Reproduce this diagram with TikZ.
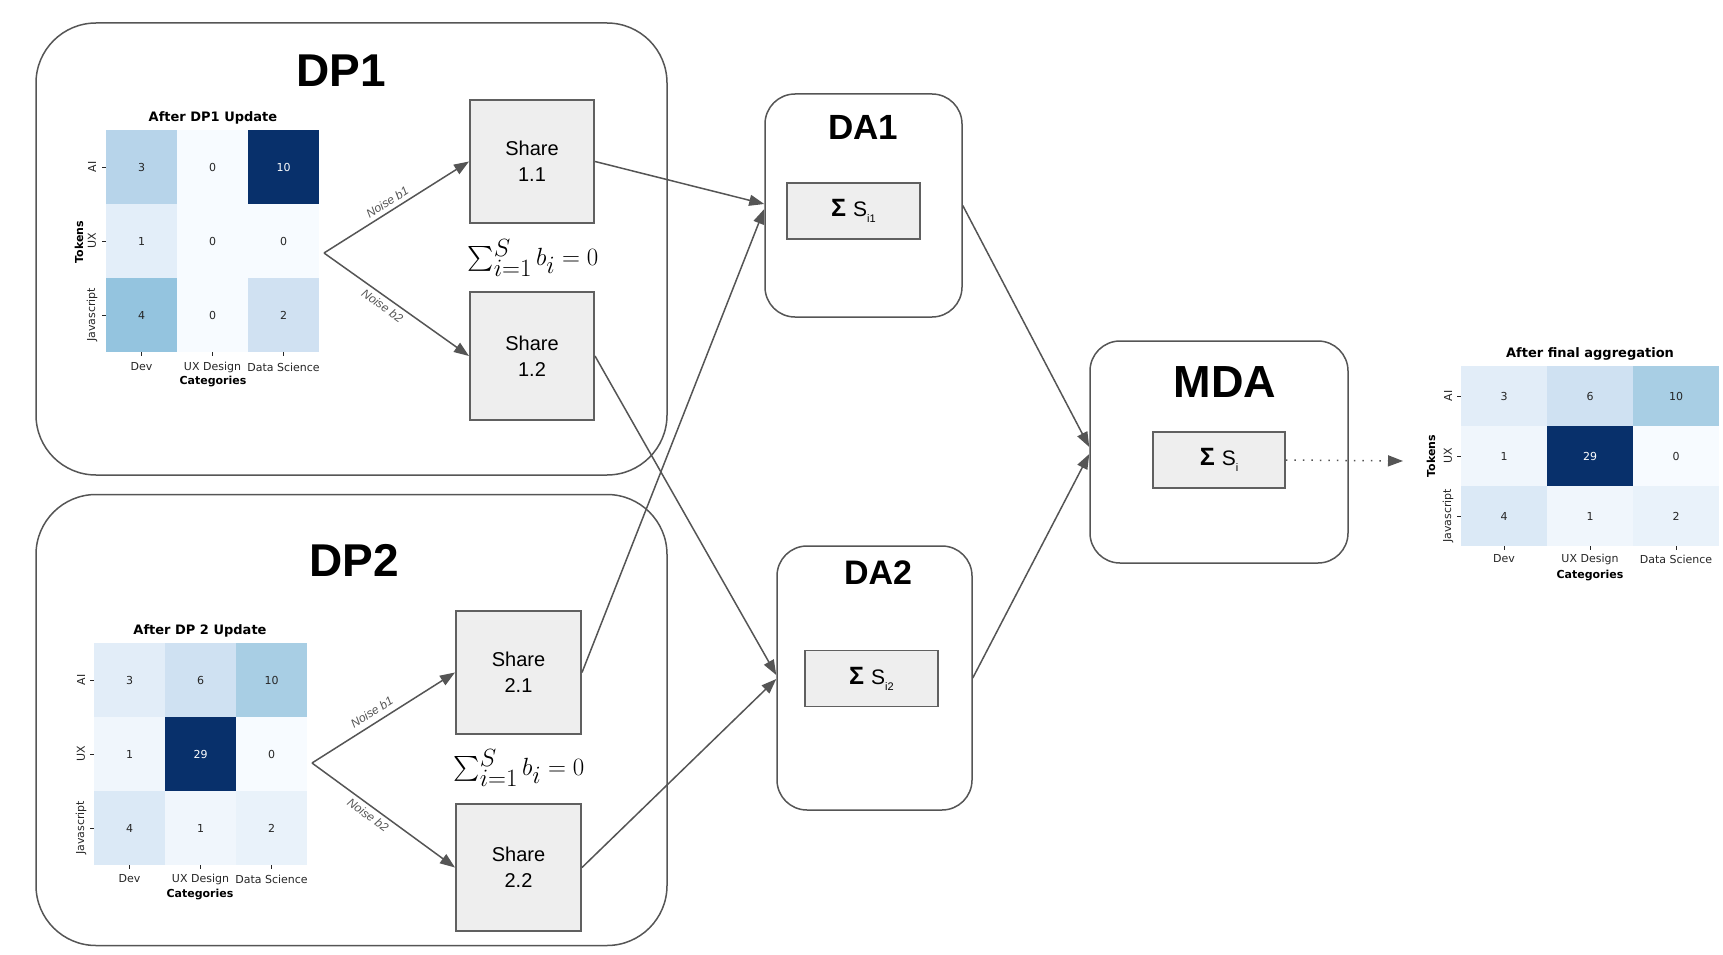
\documentclass[tikz,border=0pt]{standalone}
\usepackage{amsmath}
\usepackage{fontspec}
\setmainfont{Liberation Sans}
\newfontfamily\dejavu{DejaVu Sans}
\usetikzlibrary{arrows.meta}
\definecolor{ln}{HTML}{555555}
\definecolor{ln2}{HTML}{606060}
\definecolor{shfill}{HTML}{EEEEEE}
\definecolor{tx}{HTML}{262626}
\definecolor{cA}{HTML}{B7D4EA}
\definecolor{cW}{HTML}{F7FBFF}
\definecolor{cN}{HTML}{08306B}
\definecolor{cB}{HTML}{E3EEF9}
\definecolor{cC}{HTML}{94C4DF}
\definecolor{cD}{HTML}{D0E1F2}
\definecolor{dA}{HTML}{E2EDF8}
\definecolor{dB}{HTML}{CFE1F2}
\definecolor{dC}{HTML}{A8CEE4}
\definecolor{dD}{HTML}{F0F6FC}
\definecolor{dE}{HTML}{DBE9F6}
\definecolor{dF}{HTML}{E9F2FA}
\newcommand\sumlabel[1]{{\bfseries\fontsize{25}{25}\selectfont Σ}\hspace{7pt}{\fontsize{21}{21}\selectfont S}\raisebox{-6pt}{\fontsize{11}{11}\selectfont #1}}
\begin{document}
\begin{tikzpicture}[x=1pt,y=-1pt,
  bigbox/.style={draw=ln, line width=1.5pt, rounded corners=60pt, fill=white},
  dabox/.style={draw=ln, line width=1.5pt, rounded corners=30pt, fill=white},
  sharebox/.style={draw=ln2, fill=shfill, line width=2pt, align=center, font=\fontsize{20}{26}\selectfont},
  sumbox/.style={draw=ln2, fill=shfill, line width=1.8pt, minimum width=133pt, minimum height=56pt, inner sep=0pt},
  bigtitle/.style={font=\bfseries\fontsize{46}{46}\selectfont},
  conn/.style={draw=ln, line width=1.5pt, -{Triangle[length=15pt,width=11pt]}},
  noise/.style={font=\itshape\fontsize{12}{12}\selectfont, text=ln, sloped, inner sep=4pt},
  formula/.style={font=\fontsize{33}{36}\selectfont},
  cell/.style={inner sep=0pt, draw=none, font=\dejavu\fontsize{11}{11}\selectfont},
  hmlab/.style={inner sep=0pt, text=tx, font=\dejavu\fontsize{11}{11}\selectfont},
  hmbold/.style={inner sep=0pt, text=black, font=\dejavu\bfseries\fontsize{11}{11}\selectfont},
  hmtitle/.style={inner sep=0pt, text=black, font=\dejavu\bfseries\fontsize{13}{13}\selectfont},
  tick/.style={draw=tx, line width=0.8pt}]
\useasboundingbox (0,0) rectangle (1723,955);

% ---------- DP boxes ----------
\node[bigbox, minimum width=631pt, minimum height=452pt] (DP1) at (351.5,249) {};
\node[bigbox, minimum width=631pt, minimum height=451pt] (DP2) at (351.5,720) {};
\node[bigtitle] (DP1t) at (341,71) {DP1};
\node[bigtitle] (DP2t) at (354,560) {DP2};

% ---------- Heatmap DP1 (vmax 10) ----------
\foreach \c/\r/\v/\col/\tc in {0/0/3/cA/tx,1/0/0/cW/tx,2/0/10/cN/white,
  0/1/1/cB/tx,1/1/0/cW/tx,2/1/0/cW/tx,
  0/2/4/cC/tx,1/2/0/cW/tx,2/2/2/cD/tx}{
  \node[cell, minimum width=71pt, minimum height=74pt, fill=\col, text=\tc] (ha\r\c) at ({106+71*\c+35.5},{130+74*\r+37}) {\v};
}
\node[hmtitle] (hat) at (213,118) {After DP1 Update};
\foreach \c/\t in {0/Dev,1/UX Design,2/Data Science}{
  \node[hmlab] (hac\c) at ({106+71*\c+35.5},367) {\t};
  \draw[tick] ({106+71*\c+35.5},352) -- ({106+71*\c+35.5},356);
}
\foreach \r/\t in {0/AI,1/UX,2/Javascript}{
  \node[hmlab, rotate=90] (har\r) at (92,{130+74*\r+37}) {\t};
  \draw[tick] (102,{130+74*\r+37}) -- (106,{130+74*\r+37});
}
\node[hmbold] (haX) at (213,382) {Categories};
\node[hmbold, rotate=90] (haY) at (79,242) {Tokens};

% ---------- Heatmap DP2 (vmax 29) ----------
\foreach \c/\r/\v/\col/\tc in {0/0/3/dA/tx,1/0/6/dB/tx,2/0/10/dC/tx,
  0/1/1/dD/tx,1/1/29/cN/white,2/1/0/cW/tx,
  0/2/4/dE/tx,1/2/1/dD/tx,2/2/2/dF/tx}{
  \node[cell, minimum width=71pt, minimum height=74pt, fill=\col, text=\tc] (hb\r\c) at ({94+71*\c+35.5},{643+74*\r+37}) {\v};
}
\node[hmtitle] (hbt) at (200,631) {After DP 2 Update};
\foreach \c/\t in {0/Dev,1/UX Design,2/Data Science}{
  \node[hmlab] (hbc\c) at ({94+71*\c+35.5},879) {\t};
  \draw[tick] ({94+71*\c+35.5},865) -- ({94+71*\c+35.5},869);
}
\foreach \r/\t in {0/AI,1/UX,2/Javascript}{
  \node[hmlab, rotate=90] (hbr\r) at (81,{643+74*\r+37}) {\t};
  \draw[tick] (90,{643+74*\r+37}) -- (94,{643+74*\r+37});
}
\node[hmbold] (hbX) at (200,894) {Categories};

% ---------- Final heatmap ----------
\foreach \c/\r/\v/\col/\tc in {0/0/3/dA/tx,1/0/6/dB/tx,2/0/10/dC/tx,
  0/1/1/dD/tx,1/1/29/cN/white,2/1/0/cW/tx,
  0/2/4/dE/tx,1/2/1/dD/tx,2/2/2/dF/tx}{
  \node[cell, minimum width=86pt, minimum height=60pt, fill=\col, text=\tc] (hc\r\c) at ({1461+86*\c+43},{366+60*\r+30}) {\v};
}
\node[hmtitle] (hct) at (1590,354) {After final aggregation};
\foreach \c/\t in {0/Dev,1/UX Design,2/Data Science}{
  \node[hmlab] (hcc\c) at ({1461+86*\c+43},559) {\t};
  \draw[tick] ({1461+86*\c+43},546) -- ({1461+86*\c+43},550);
}
\foreach \r/\t in {0/AI,1/UX,2/Javascript}{
  \node[hmlab, rotate=90] (hcr\r) at (1448,{366+60*\r+30}) {\t};
  \draw[tick] (1457,{366+60*\r+30}) -- (1461,{366+60*\r+30});
}
\node[hmbold] (hcX) at (1590,576) {Categories};
\node[hmbold, rotate=90] (hcY) at (1431,456) {Tokens};

% ---------- Shares ----------
\node[sharebox, minimum width=124pt, minimum height=123pt] (S11) at (532,161.5) {Share\\1.1};
\node[sharebox, minimum width=124pt, minimum height=128pt] (S12) at (532,356) {Share\\1.2};
\node[sharebox, minimum width=125pt, minimum height=123pt] (S21) at (518.5,672.5) {Share\\2.1};
\node[sharebox, minimum width=125pt, minimum height=127pt] (S22) at (518.5,867.5) {Share\\2.2};
\node[formula] (F1) at (533,258) {$\textstyle\sum_{i=1}^{S} b_i = 0$};
\node[formula] (F2) at (519,768) {$\textstyle\sum_{i=1}^{S} b_i = 0$};

\coordinate (fk1) at (324,253);
\coordinate (fk2) at (312,763);
\draw[conn] (fk1) -- node[noise, above, pos=0.47] {Noise b1} (S11.west);
\draw[conn] (fk1) -- node[noise, below, pos=0.44] {Noise b2} (S12.west);
\draw[conn] (fk2) -- node[noise, above, pos=0.46, yshift=2pt] {Noise b1} (S21.west);
\draw[conn] (fk2) -- node[noise, below, pos=0.43] {Noise b2} (S22.west);

% ---------- DA / MDA ----------
\node[dabox, minimum width=197pt, minimum height=223pt] (DA1) at (863.5,205.5) {};
\node[font=\bfseries\fontsize{35}{35}\selectfont] (DA1t) at (863,127) {DA1};
\node[sumbox] (SA1) at (853.5,211) {\sumlabel{i1}};

\node[dabox, minimum width=195pt, minimum height=264pt] (DA2) at (874.5,678) {};
\node[font=\bfseries\fontsize{34}{34}\selectfont] (DA2t) at (878,573) {DA2};
\node[sumbox] (SA2) at (871.5,678.5) {\sumlabel{i2}};

\node[dabox, minimum width=258pt, minimum height=222pt] (MDA) at (1219,452) {};
\node[font=\bfseries\fontsize{45}{45}\selectfont] (MDAt) at (1225,382) {MDA};
\node[sumbox, minimum width=132pt] (SM) at (1219,460) {\sumlabel{i}};

% ---------- connectors ----------
\draw[conn] (S11.east) -- ([yshift=1.5pt]DA1.west);
\draw[conn] (S21.east) -- ([yshift=-3.5pt]DA1.west);
\draw[conn] (S12.east) -- ([yshift=3pt]DA2.west);
\draw[conn] (S22.east) -- ([yshift=-1pt]DA2.west);
\draw[conn] (DA1.east) -- ([yshift=5pt]MDA.west);
\draw[conn] (DA2.east) -- ([yshift=-2pt]MDA.west);

\coordinate (out) at (1403,461);
\draw[draw=ln, line width=1.5pt, dash pattern=on 1.5pt off 7pt, -{Triangle[length=15pt,width=11pt]}] (SM.east) -- (out);
\end{tikzpicture}
\end{document}
